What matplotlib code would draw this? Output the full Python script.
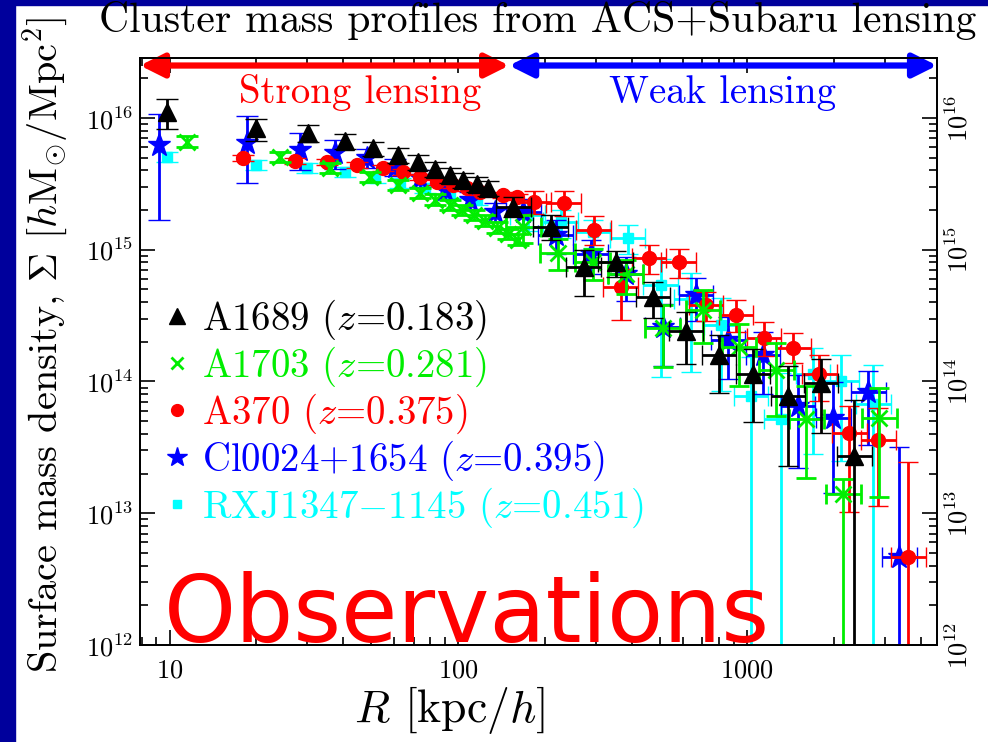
import matplotlib.pyplot as plt
import numpy as np
from matplotlib.lines import Line2D
from matplotlib.patches import Rectangle
from matplotlib.ticker import FixedLocator, FuncFormatter, LogLocator, NullFormatter

plt.rcParams['mathtext.fontset'] = 'cm'
plt.rcParams['font.family'] = 'cmr10'
plt.rcParams['axes.formatter.use_mathtext'] = True

# Sigma in units of 1e15 h Msun/Mpc^2, errors in dex (3 = bar reaches zero), xerr in dex (0 = strong lensing)
a1689_R = [9.8, 20.0, 30.1, 40.5, 50.7, 61.9, 72.6, 83.2, 93.8, 104, 116, 127,
           155, 209, 272, 351, 472, 614, 800, 1050, 1388, 1805, 2355]
a1689_S = [11.1, 8.4, 7.7, 6.7, 5.9, 5.25, 4.64, 4.11, 3.70, 3.39, 3.16, 2.95,
           2.12, 1.49, 0.74, 0.80, 0.44, 0.24, 0.16, 0.113, 0.077, 0.098, 0.027]
a1689_lo = [0.13, 0.10, 0.07, 0.06, 0.06, 0.06, 0.06, 0.06, 0.06, 0.06, 0.06, 0.06,
            0.08, 0.10, 0.22, 0.11, 0.16, 0.25, 0.29, 0.36, 0.53, 0.38, 3]
a1689_hi = [0.10, 0.07, 0.06, 0.05, 0.05, 0.05, 0.05, 0.05, 0.05, 0.05, 0.05, 0.05,
            0.07, 0.09, 0.13, 0.09, 0.11, 0.15, 0.15, 0.19, 0.23, 0.18, 0.43]
a1689_xe = [0] * 12 + [0.06] * 11

a1703_R = [11.5, 24.1, 35.9, 49.4, 61.9, 73.8, 83.2, 93.8, 103.2, 113.7, 124.1, 136.5, 149.2, 161.5,
           168.2, 220.8, 291.9, 380, 510, 703, 938, 1262, 1603, 2155, 2872]
a1703_S = [6.6, 5.07, 4.18, 3.57, 3.11, 2.70, 2.40, 2.19, 2.01, 1.84, 1.66, 1.47, 1.32, 1.19,
           1.49, 0.95, 0.81, 0.65, 0.256, 0.35, 0.184, 0.123, 0.052, 0.0139, 0.053]
a1703_lo = [0.04] * 14 + [0.12, 0.13, 0.14, 0.15, 0.30, 0.25, 0.30, 0.35, 0.45, 3, 0.60]
a1703_hi = [0.04] * 14 + [0.09, 0.10, 0.10, 0.11, 0.17, 0.15, 0.17, 0.20, 0.25, 0.12, 0.23]
a1703_xe = [0] * 14 + [0.06] * 11

a370_R = [17.9, 27.2, 35.1, 44.6, 54.9, 64.4, 73.8, 84.5, 96.1, 107.4, 119.1, 143.2, 160.3,
          182.2, 231.6, 294.3, 365.1, 457, 580, 721, 916, 1146, 1445, 1778, 2259, 2851, 3622]
a370_S = [4.98, 4.72, 4.64, 4.41, 4.18, 3.90, 3.57, 3.27, 3.11, 2.95, 2.75, 2.61, 2.52,
          2.31, 2.27, 1.42, 0.52, 0.87, 0.81, 0.38, 0.32, 0.215, 0.181, 0.113, 0.041, 0.036, 0.00464]
a370_lo = [0.025] * 13 + [0.09, 0.10, 0.12, 0.25, 0.12, 0.12, 0.12, 0.13, 0.14, 0.12, 0.20, 0.60, 0.50, 3]
a370_hi = [0.025] * 13 + [0.08, 0.09, 0.10, 0.14, 0.10, 0.10, 0.10, 0.11, 0.12, 0.11, 0.15, 0.20, 0.24, 0.72]
a370_xe = [0] * 13 + [0.06] * 14

cl0024_R = [9.2, 18.5, 28.3, 37.4, 48.3, 60.4, 73.8, 90.1, 110.1, 134.3,
            168.2, 217.3, 287.3, 380, 510, 666, 859, 1137, 1503, 1989, 2630, 3371]
cl0024_S = [6.2, 6.5, 5.73, 5.4, 4.98, 4.26, 3.51, 2.85, 2.40, 1.94,
            1.94, 1.30, 0.92, 0.65, 0.26, 0.456, 0.208, 0.160, 0.065, 0.053, 0.083, 0.00464]
cl0024_lo = [0.57, 0.31, 0.15, 0.12, 0.08, 0.07, 0.07, 0.07, 0.07, 0.08,
             0.12, 0.15, 0.15, 0.20, 0.30, 0.20, 0.30, 0.30, 0.47, 0.57, 0.40, 3]
cl0024_hi = [0.24, 0.20, 0.13, 0.10, 0.07, 0.06, 0.06, 0.06, 0.06, 0.07,
             0.10, 0.11, 0.11, 0.13, 0.17, 0.13, 0.17, 0.17, 0.24, 0.27, 0.16, 0.84]
cl0024_xe = [0] * 10 + [0.06] * 12

rxj1347_R = [9.8, 20.0, 29.9, 40.5, 51.5, 62.9, 76.8, 93.8, 116,
             173.8, 226, 291.9, 386.3, 502, 640, 813, 1033, 1313, 1694, 2120, 2738]
rxj1347_S = [5.07, 4.41, 4.18, 3.90, 3.51, 3.22, 2.95, 2.70, 2.40,
             1.84, 1.63, 1.37, 1.23, 0.54, 0.42, 0.27, 0.077, 0.052, 0.113, 0.10, 0.067]
rxj1347_lo = [0.04] * 9 + [0.12, 0.12, 0.12, 0.12, 0.70, 0.55, 0.50, 3, 3, 0.60, 0.60, 3]
rxj1347_hi = [0.04] * 9 + [0.09, 0.09, 0.09, 0.10, 0.20, 0.20, 0.20, 0.30, 0.35, 0.20, 0.20, 0.30]
rxj1347_xe = [0] * 9 + [0.06] * 12

labels = [r'A1689 ($z$=0.183)', r'A1703 ($z$=0.281)', r'A370 ($z$=0.375)',
          r'Cl0024+1654 ($z$=0.395)', r'RXJ1347$-$1145 ($z$=0.451)']
colors = ['black', '#00ee00', 'red', 'blue', 'cyan']
markers = ['^', 'x', 'o', '*', 's']
msizes = [13, 11, 10, 17, 7]

navy = '#00009c'

fig = plt.figure(figsize=(9.88, 7.42), dpi=100)
fig.patches.append(Rectangle((0, 0), 15 / 988, 1, transform=fig.transFigure, color=navy, zorder=-5))
fig.patches.append(Rectangle((0, 1 - 5 / 742), 1, 5 / 742, transform=fig.transFigure, color=navy, zorder=-5))

ax = fig.add_axes([0.1417, 0.1307, 0.8067, 0.7911])
ax.set_xscale('log')
ax.set_yscale('log')
ax.set_xlim(7.9, 4550)
ax.set_ylim(1e12, 2.85e16)


def draw(R, S, lo, hi, xe, color, marker, ms, z):
    R = np.array(R, float)
    S = np.array(S, float) * 1e15
    lo = np.array(lo, float)
    hi = np.array(hi, float)
    xe = np.array(xe, float)
    yerr = np.vstack([S - S * 10 ** -lo, S * 10 ** hi - S])
    xerr = np.vstack([R - R * 10 ** -xe, R * 10 ** xe - R])
    strong = xe == 0
    kw = dict(fmt=marker, color=color, ms=ms, mew=2 if marker == 'x' else 1,
              capsize=8, elinewidth=2, capthick=2, zorder=z)
    ax.errorbar(R[strong], S[strong], yerr=yerr[:, strong], **kw)
    kw['capsize'] = 7
    ax.errorbar(R[~strong], S[~strong], yerr=yerr[:, ~strong], xerr=xerr[:, ~strong], **kw)


draw(rxj1347_R, rxj1347_S, rxj1347_lo, rxj1347_hi, rxj1347_xe, colors[4], markers[4], msizes[4], 2)
draw(cl0024_R, cl0024_S, cl0024_lo, cl0024_hi, cl0024_xe, colors[3], markers[3], msizes[3], 3)
draw(a370_R, a370_S, a370_lo, a370_hi, a370_xe, colors[2], markers[2], msizes[2], 4)
draw(a1703_R, a1703_S, a1703_lo, a1703_hi, a1703_xe, colors[1], markers[1], msizes[1], 5)
draw(a1689_R, a1689_S, a1689_lo, a1689_hi, a1689_xe, colors[0], markers[0], msizes[0], 6)

# ticks
dec_fmt = FuncFormatter(lambda v, p: r'$\mathsf{10^{%d}}$' % round(np.log10(v)))
ax.yaxis.set_major_locator(FixedLocator([1e12, 1e13, 1e14, 1e15, 1e16]))
ax.yaxis.set_minor_locator(LogLocator(base=10, subs=np.arange(2, 10), numticks=20))
ax.yaxis.set_major_formatter(dec_fmt)
ax.yaxis.set_minor_formatter(NullFormatter())
ax.xaxis.set_major_locator(FixedLocator([10, 100, 1000]))
ax.xaxis.set_minor_locator(LogLocator(base=10, subs=np.arange(2, 10), numticks=20))
ax.xaxis.set_major_formatter(FuncFormatter(lambda v, p: r'$\mathsf{%d}$' % v))
ax.xaxis.set_minor_formatter(NullFormatter())
ax.tick_params(which='both', direction='in', top=True, right=False, width=1.2)
ax.tick_params(which='major', length=11, labelsize=19)
ax.tick_params(which='minor', length=6)
ax.tick_params(axis='x', pad=10)
ax.tick_params(axis='y', pad=5)

ax2 = ax.twinx()
ax2.set_yscale('log')
ax2.set_ylim(ax.get_ylim())
ax2.yaxis.set_major_locator(FixedLocator([1e12, 1e13, 1e14, 1e15, 1e16]))
ax2.yaxis.set_minor_locator(LogLocator(base=10, subs=np.arange(2, 10), numticks=20))
ax2.yaxis.set_major_formatter(dec_fmt)
ax2.yaxis.set_minor_formatter(NullFormatter())
ax2.tick_params(which='both', direction='in', width=1.2)
ax2.tick_params(which='major', length=11, labelsize=19, pad=6)
ax2.tick_params(which='minor', length=6)
for t in ax2.get_yticklabels():
    t.set_rotation(90)
    t.set_va('center')

for a in (ax, ax2):
    for s in a.spines.values():
        s.set_linewidth(1.3)

# lensing regime arrows
y_arr = 2.5e16
ax.annotate('', xy=(7.9, y_arr), xytext=(150, y_arr),
            arrowprops=dict(arrowstyle='<|-|>', color='red', lw=4.5, mutation_scale=36,
                            shrinkA=0, shrinkB=0), zorder=8)
ax.annotate('', xy=(150, y_arr), xytext=(4550, y_arr),
            arrowprops=dict(arrowstyle='<|-|>', color='blue', lw=4.5, mutation_scale=36,
                            shrinkA=0, shrinkB=0), zorder=8)
ax.text(45.6, 1.55e16, 'Strong lensing', color='red', fontsize=28, ha='center', va='center')
ax.text(826, 1.55e16, 'Weak lensing', color='blue', fontsize=28, ha='center', va='center')

# legend
handles = [Line2D([], [], ls='none', marker=m, color=c, ms=s * 0.85, mew=2 if m == 'x' else 1)
           for m, c, s in zip(markers, colors, msizes)]
ax.legend(handles, labels, loc='upper left', bbox_to_anchor=(-0.012, 0.652), frameon=False,
          fontsize=28, labelcolor=colors, handlelength=0.6, handletextpad=0.35,
          labelspacing=0.07)

ax.text(0.41, 0.005, 'Observations', transform=ax.transAxes, color='red', fontsize=66,
        family='DejaVu Sans', ha='center', va='baseline', zorder=9)

fig.text(0.544, 0.972, 'Cluster mass profiles from ACS+Subaru lensing', fontsize=30,
         ha='center', va='center')
fig.text(0.046, 0.535, r'Surface mass density, $\Sigma$ [$h$M$_{\odot}$/Mpc$^2$]',
         fontsize=29, rotation=90, ha='center', va='center')
fig.text(0.455, 0.008, r'$R$ [kpc/$h$]', fontsize=33, ha='center', va='bottom')

fig.savefig('out.png', dpi=100, facecolor='white')
